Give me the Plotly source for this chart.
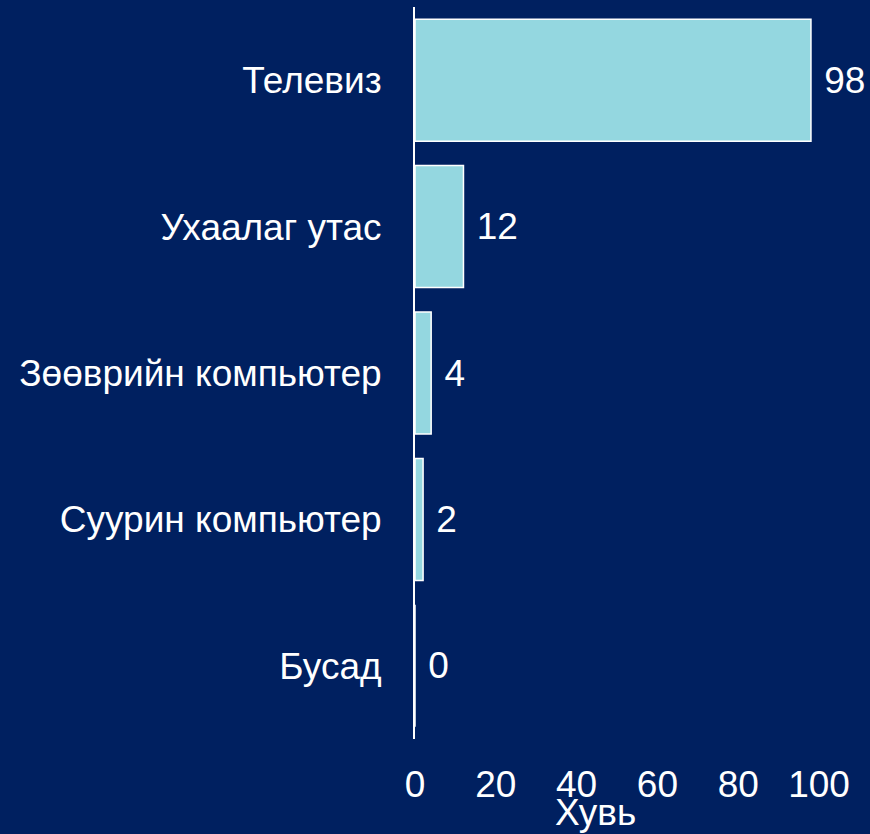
import plotly.graph_objects as go

# categories top -> bottom as in the picture
categories = ['Телевиз', 'Ухаалаг утас', 'Зөөврийн компьютер', 'Суурин компьютер', 'Бусад']
values = [98, 12, 4, 2, 0]
x_ticks = [0, 20, 40, 60, 80, 100]

BG = '#002060'
BAR = '#94d7e0'
FONT = 'Arial, Liberation Sans, sans-serif'

fig = go.Figure(go.Bar(
    x=values,
    y=categories,
    orientation='h',
    marker=dict(color=BAR, line=dict(color='white', width=1.5)),
    text=[f' {v}' for v in values],
    textposition='outside',
    cliponaxis=False,
    textfont=dict(color='white', size=37, family=FONT),
))

fig.update_layout(
    width=870,
    height=834,
    paper_bgcolor=BG,
    plot_bgcolor=BG,
    font=dict(family=FONT, color='white', size=37),
    margin=dict(l=415, r=15, t=7, b=95),
    bargap=0.167,
    showlegend=False,
    xaxis=dict(
        range=[0, 108.9],
        tickvals=x_ticks,
        showgrid=False,
        zeroline=False,
        showline=False,
        ticks='',
        ticklabelstandoff=20,
        tickfont=dict(size=37),
    ),
    yaxis=dict(
        autorange='reversed',
        showgrid=False,
        zeroline=False,
        showline=True,
        linecolor='white',
        linewidth=2,
        ticks='',
        ticklabelstandoff=24,
        tickfont=dict(size=37),
    ),
    annotations=[dict(
        text='Хувь', xref='paper', yref='paper', x=0.41, y=-0.101,
        xanchor='center', yanchor='middle', showarrow=False,
        font=dict(size=37, color='white'),
    )],
)

# drop the page margin so the dark figure fills the window
fig.write_html(
    'out.html',
    config={'displayModeBar': False},
    post_script="document.body.style.margin='0';document.body.style.background='#002060';",
)
